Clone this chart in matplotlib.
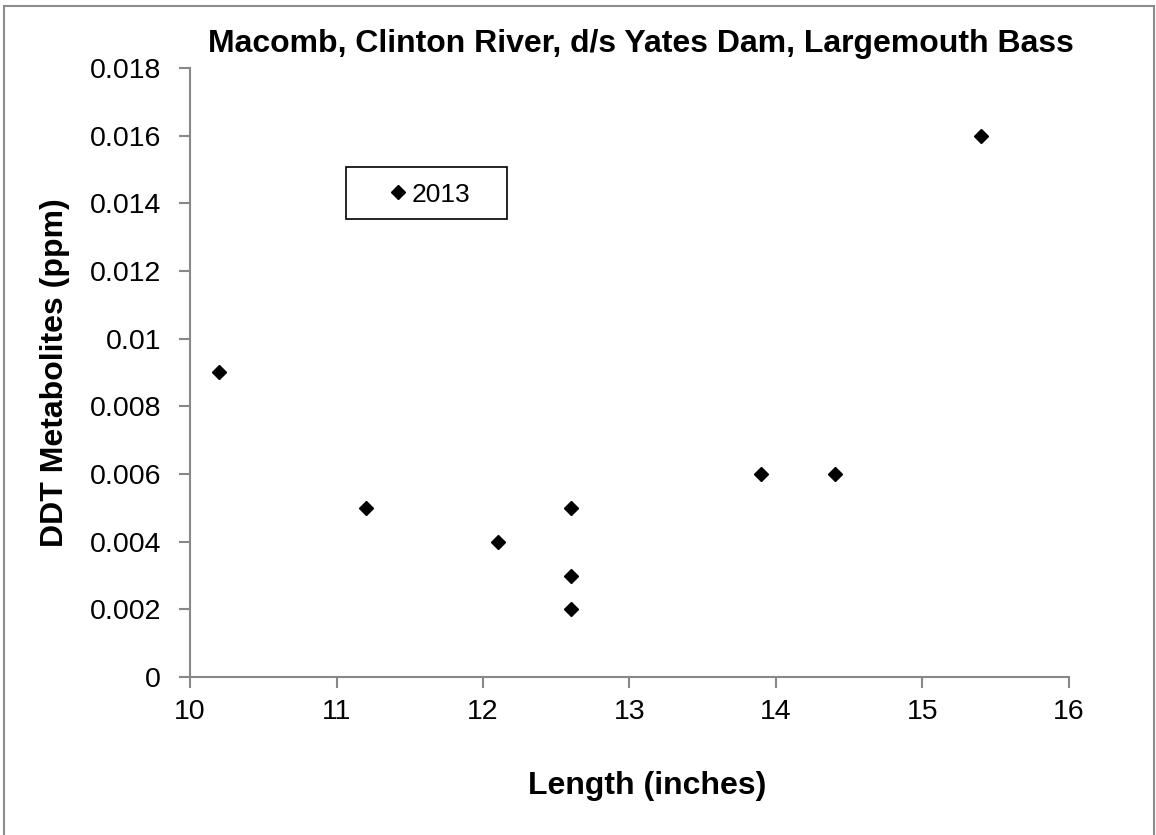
import matplotlib.pyplot as plt
from matplotlib.patches import Rectangle

plt.rcParams['font.family'] = ['Liberation Sans', 'DejaVu Sans']

# fish lengths (inches) and DDT metabolites (ppm), 2013 samples
length_in = [10.2, 11.2, 12.1, 12.6, 12.6, 12.6, 13.9, 14.4, 15.4]
ddt_ppm = [0.009, 0.005, 0.004, 0.005, 0.003, 0.002, 0.006, 0.006, 0.016]
series_label = '2013'

x_ticks = [10, 11, 12, 13, 14, 15, 16]
y_ticks = [0, 0.002, 0.004, 0.006, 0.008, 0.01, 0.012, 0.014, 0.016, 0.018]
y_tick_labels = ['0', '0.002', '0.004', '0.006', '0.008', '0.01',
                 '0.012', '0.014', '0.016', '0.018']

AXIS_GRAY = '#888888'


def main():
    fig = plt.figure(figsize=(11.56, 8.35), dpi=100)
    ax = fig.add_axes([0.1644, 0.1892, 0.7603, 0.7294])

    ax.plot(length_in, ddt_ppm, linestyle='none', marker='D', markersize=7.5,
            color='black', label=series_label)

    ax.set_xlim(10, 16)
    ax.set_ylim(0, 0.018)
    ax.set_xticks(x_ticks)
    ax.set_yticks(y_ticks)
    ax.set_yticklabels(y_tick_labels)

    for side in ['top', 'right']:
        ax.spines[side].set_visible(False)
    for side in ['left', 'bottom']:
        ax.spines[side].set_color(AXIS_GRAY)
        ax.spines[side].set_linewidth(1.5)
    ax.tick_params(direction='out', length=8, width=1.5, color=AXIS_GRAY,
                   labelsize=20.5, labelcolor='black')
    ax.tick_params(axis='x', pad=8)
    ax.tick_params(axis='y', pad=13)

    ax.set_title('Macomb, Clinton River, d/s Yates Dam, Largemouth Bass',
                 fontsize=23, fontweight='bold', x=0.513, pad=11.5)
    ax.set_xlabel('Length (inches)', fontsize=23, fontweight='bold')
    ax.xaxis.set_label_coords(0.520, -0.154)
    ax.set_ylabel('DDT Metabolites (ppm)', fontsize=23, fontweight='bold')
    ax.yaxis.set_label_coords(-0.1365, 0.5)

    # legend box drawn as in the original (wide frame, entry centred)
    ax.add_patch(Rectangle((0.1775, 0.752), 0.183, 0.0854, transform=ax.transAxes,
                           fill=False, edgecolor='black', linewidth=1.2,
                           clip_on=False))
    ax.legend(loc='center', bbox_to_anchor=(0.2735, 0.792), frameon=False,
              fontsize=19, handlelength=0.6, handletextpad=0.2, borderpad=0)

    fig.patches.append(Rectangle((0.0035, -0.01), 0.9948, 1.0028,
                                 transform=fig.transFigure, fill=False,
                                 edgecolor='#8c8c8c', linewidth=1.5))

    fig.savefig('out.png', dpi=100)


if __name__ == '__main__':
    main()
